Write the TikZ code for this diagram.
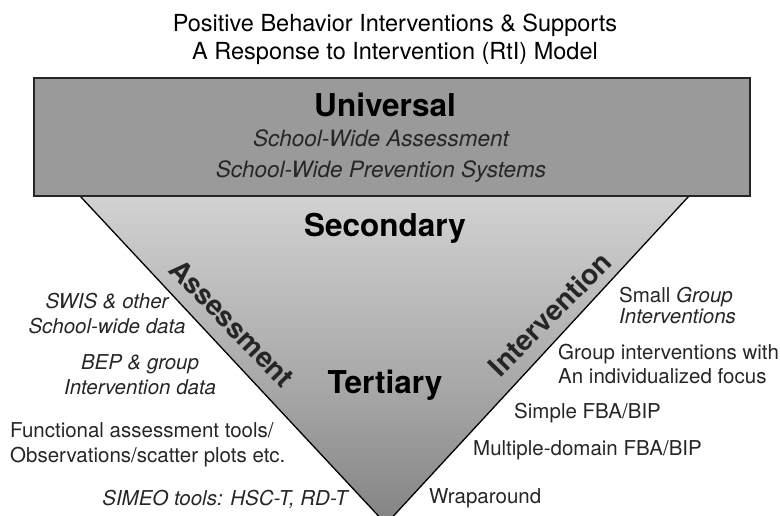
\documentclass[tikz,border=0pt]{standalone}
\usepackage{fontspec}
\setmainfont{TeX Gyre Heros}
\definecolor{univgray}{HTML}{9A9A9A}
\definecolor{tiertop}{HTML}{E8E8E8}
\definecolor{tierlight}{HTML}{D6D6D6}
\definecolor{tiermid}{HTML}{A6A6A6}
\definecolor{tierlow}{HTML}{7E7E7E}
\definecolor{tierdark}{HTML}{3C3C3C}
\definecolor{inkgray}{HTML}{262626}
\pgfdeclareverticalshading{tiershade}{100bp}{color(0bp)=(tierdark); color(22bp)=(tierlow); color(45bp)=(tiermid); color(78bp)=(tierlight); color(100bp)=(tiertop)}

\begin{document}
\begin{tikzpicture}[x=1pt,y=-1pt,
  txt/.style={font=\fontsize{20.5}{26}\selectfont, text=inkgray, inner sep=0pt},
  itxt/.style={txt, font=\fontsize{20.5}{26}\selectfont\itshape},
  tier/.style={font=\fontsize{31.5}{34}\selectfont\bfseries, inner sep=0pt},
  side/.style={font=\fontsize{28}{30}\selectfont\bfseries, text=inkgray, inner sep=0pt}]
\useasboundingbox (0,0) rectangle (780,516);
\coordinate (tl) at (80,196);
\coordinate (tr) at (689,196);
\coordinate (apex) at (386,524);
\shade[shading=tiershade, draw=black, line width=1.3pt] (tl) -- (tr) -- (apex) -- cycle;
\draw[fill=univgray, draw=black!85, line width=2pt] (34,78) rectangle (750,196);

\node[txt, align=center, text=black, font=\fontsize{23.5}{28}\selectfont] (title) at (395,39) {Positive Behavior Interventions \& Supports\\A Response to Intervention (RtI) Model};

\node[tier] (universal) at (385,105) {Universal};
\node[itxt, font=\fontsize{22.5}{26}\selectfont\itshape] (uassess) at (381,138) {School-Wide Assessment};
\node[itxt, font=\fontsize{22.5}{26}\selectfont\itshape] (uprevent) at (381,172) {School-Wide Prevention Systems};
\node[tier] (secondary) at (385,228) {Secondary};
\node[tier] (tertiary) at (385,385) {Tertiary};

\node[side, rotate=-45.7] (assess) at (232,323) {Assessment};
\node[side, rotate=45.3] (interv) at (550,314) {Intervention};

\node[itxt, align=center, font=\fontsize{20.5}{25}\selectfont\itshape] (swis) at (107,314) {SWIS \& other\\School-wide data};
\node[itxt, align=center, font=\fontsize{20.5}{25}\selectfont\itshape] (bep) at (140,375) {BEP \& group\\Intervention data};
\node[txt, align=left, anchor=west, font=\fontsize{20.5}{25}\selectfont] (fat) at (10,445) {Functional assessment tools/\\Observations/scatter plots etc.};
\node[itxt] (simeo) at (225,499) {SIMEO tools: HSC-T, RD-T};

\node[txt, align=left, anchor=west, font=\fontsize{20.5}{21}\selectfont] (small) at (619,305) {Small \textit{Group}\\\textit{Interventions}};
\node[txt, align=left, anchor=west, font=\fontsize{20.5}{24}\selectfont] (groupi) at (558,364) {Group interventions with\\An individualized focus};
\node[txt, anchor=west] (simple) at (514,413) {Simple FBA/BIP};
\node[txt, anchor=west] (multi) at (473,450) {Multiple-domain FBA/BIP};
\node[txt, anchor=west] (wrap) at (429,498) {Wraparound};
\end{tikzpicture}
\end{document}
